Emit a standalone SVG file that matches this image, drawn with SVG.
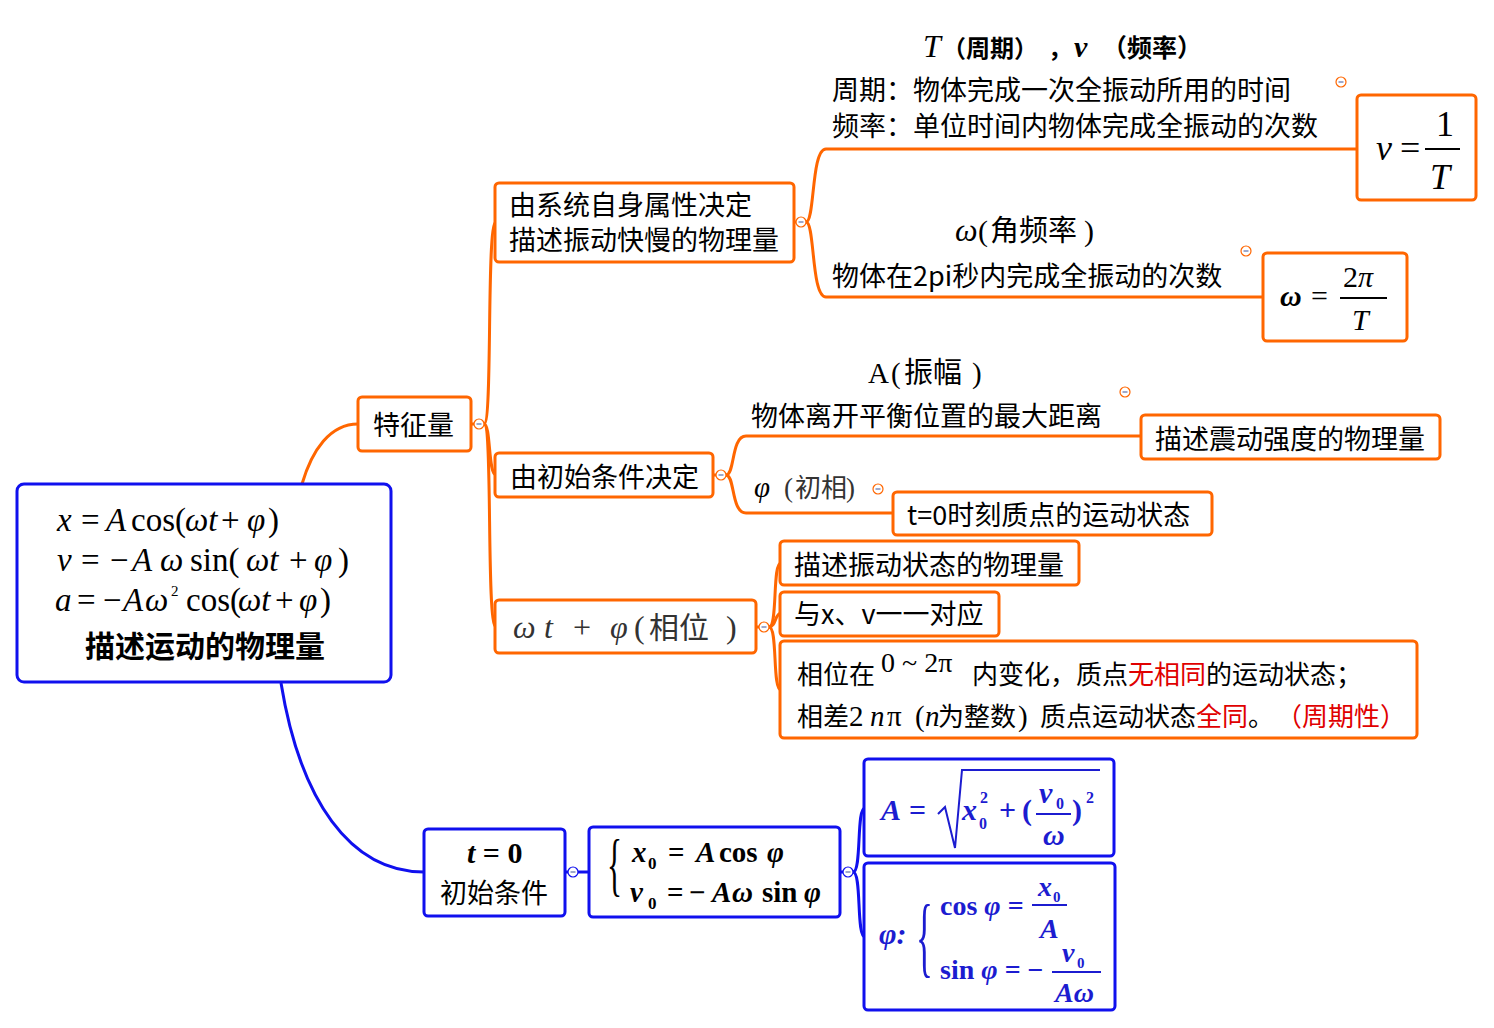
<svg xmlns="http://www.w3.org/2000/svg" width="1494" height="1028" viewBox="0 0 1494 1028" font-size="27">
<style>
.bo{fill:#fff;stroke:#ff6600;stroke-width:3}
.bb{fill:#fff;stroke:#1010ee;stroke-width:3}
.lo{fill:none;stroke:#ff6600;stroke-width:3}
.lb{fill:none;stroke:#1010ee;stroke-width:3}
.zh{font-family:"Noto Sans CJK SC","Noto Sans",sans-serif;fill:#000}
.m{font-family:"Liberation Serif","DejaVu Serif",serif}
.i{font-style:italic}
.b{font-weight:bold}
.blue{fill:#1c1cd0}
.red{fill:#e00000}
.gray{fill:#333}
.bar{stroke:#000;stroke-width:2}
.barb{stroke:#1c1cd0;stroke-width:2}
</style>
<defs>
<g id="co"><circle r="5" fill="#fff" stroke="#ff6600" stroke-width="1.2"/><line x1="-2.5" x2="2.5" stroke="#6a7ab0" stroke-width="1.3"/></g>
<g id="cb"><circle r="5" fill="#fff" stroke="#1010ee" stroke-width="1.2"/><line x1="-2.5" x2="2.5" stroke="#6a7ab0" stroke-width="1.3"/></g>
</defs>

<g id="connectors">
<path class="lo" d="M302,484 C312,450 330,424 358,424"/>
<path class="lo" d="M471,424 L484,424"/>
<path class="lo" d="M484,424 C493,424 486,222 496,222"/>
<path class="lo" d="M484,424 C491,424 488,475 496,475"/>
<path class="lo" d="M484,424 C493,424 486,627 496,627"/>
<path class="lo" d="M794,222 L806,222 C815,222 811,149 826,149 L1357,149"/>
<path class="lo" d="M806,222 C815,222 811,297 826,297 L1263,297"/>
<path class="lo" d="M713,475 L726,475 C735,475 731,436 746,436 L1141,436"/>
<path class="lo" d="M726,475 C735,475 731,513 746,513 L893,513"/>
<path class="lo" d="M756,627 L769,627 C778,627 772,563 781,563"/>
<path class="lo" d="M769,627 C776,627 775,613 781,613"/>
<path class="lo" d="M769,627 C778,627 772,690 781,690"/>
<path class="lb" d="M281,683 C300,800 350,872 424,872"/>
<path class="lb" d="M565,872 L589,872"/>
<path class="lb" d="M840,872 L853,872 C862,872 856,808 865,808"/>
<path class="lb" d="M853,872 C862,872 856,937 865,937"/>
<use href="#co" x="479" y="424"/>
<use href="#co" x="801" y="222"/>
<use href="#co" x="721" y="475"/>
<use href="#co" x="764" y="627"/>
<use href="#co" x="1341" y="82"/>
<use href="#co" x="1246" y="251"/>
<use href="#co" x="1125" y="392"/>
<use href="#co" x="878" y="489"/>
<use href="#cb" x="573" y="872"/>
<use href="#cb" x="848" y="872"/>
</g>

<g id="root">
<rect class="bb" x="17" y="484" width="374" height="198" rx="7"/>
<text class="m" font-size="33" y="531"><tspan class="i" x="57">x</tspan><tspan x="81">=</tspan><tspan class="i" x="106">A</tspan><tspan x="131">cos(</tspan><tspan class="i" x="185">ωt</tspan><tspan x="221">+</tspan><tspan class="i" x="247">φ</tspan><tspan x="268">)</tspan></text>
<text class="m" font-size="33" y="571"><tspan class="i" x="57">v</tspan><tspan x="81">=</tspan><tspan x="110">−</tspan><tspan class="i" x="132">A</tspan><tspan class="i" x="160">ω</tspan><tspan x="190">sin(</tspan><tspan class="i" x="246">ωt</tspan><tspan x="289">+</tspan><tspan class="i" x="314">φ</tspan><tspan x="338">)</tspan></text>
<text class="m" font-size="33" y="611"><tspan class="i" x="55">a</tspan><tspan x="77">=</tspan><tspan x="103">−</tspan><tspan class="i" x="123">A</tspan><tspan class="i" x="145">ω</tspan><tspan font-size="15" x="171" y="596">2</tspan><tspan x="186" y="611">cos(</tspan><tspan class="i" x="238">ωt</tspan><tspan x="275">+</tspan><tspan class="i" x="299">φ</tspan><tspan x="320">)</tspan></text>
<text class="zh b" font-size="30" x="85" y="657">描述运动的物理量</text>
</g>

<g id="tezheng">
<rect class="bo" x="358" y="397" width="113" height="54" rx="4"/>
<text class="zh" x="373" y="435">特征量</text>
</g>

<g id="xitong">
<rect class="bo" x="495" y="183" width="299" height="79" rx="4"/>
<text class="zh" x="509" y="215">由系统自身属性决定</text>
<text class="zh" x="509" y="250">描述振动快慢的物理量</text>
</g>

<g id="zhouqi">
<text y="57"><tspan class="m i" font-size="32" x="923">T</tspan><tspan class="zh b" font-size="24" x="942">（周期）</tspan><tspan class="zh b" font-size="24" x="1048">，</tspan><tspan class="m i b" font-size="30" x="1074">ν</tspan><tspan class="zh b" font-size="25" x="1102">（频率）</tspan></text>
<text class="zh" x="832" y="100">周期：物体完成一次全振动所用的时间</text>
<text class="zh" x="832" y="136">频率：单位时间内物体完成全振动的次数</text>
</g>

<g id="nu">
<rect class="bo" x="1357" y="95" width="119" height="105" rx="4"/>
<text class="m i" font-size="36" x="1376" y="160">ν</text>
<text class="m" font-size="36" x="1400" y="160">=</text>
<text class="m" font-size="36" x="1436" y="136">1</text>
<line class="bar" x1="1425" y1="149" x2="1460" y2="149"/>
<text class="m i" font-size="36" x="1430" y="189">T</text>
</g>

<g id="omega-text">
<text y="241"><tspan class="m i" font-size="32" x="955">ω</tspan><tspan class="m" font-size="30" x="978">(</tspan><tspan class="zh" font-size="29" x="990">角频率</tspan><tspan class="m" font-size="30" x="1084">)</tspan></text>
<text class="zh" x="832" y="286">物体在2pi秒内完成全振动的次数</text>
</g>

<g id="omega">
<rect class="bo" x="1263" y="253" width="144" height="88" rx="4"/>
<text class="m i b" font-size="30" x="1280" y="306">ω</text>
<text class="m" font-size="30" x="1311" y="306">=</text>
<text class="m" font-size="30" x="1343" y="287">2<tspan class="i">π</tspan></text>
<line class="bar" x1="1340" y1="298" x2="1387" y2="298"/>
<text class="m i" font-size="30" x="1352" y="330">T</text>
</g>

<g id="chushi">
<rect class="bo" x="495" y="453" width="218" height="44" rx="4"/>
<text class="zh" x="510" y="487">由初始条件决定</text>
</g>

<g id="zhenfu-text">
<text y="383"><tspan class="m" font-size="29" x="868">A</tspan><tspan class="m" font-size="29" x="891">(</tspan><tspan class="zh" font-size="29" x="904">振幅</tspan><tspan class="m" font-size="29" x="972">)</tspan></text>
<text class="zh" x="751" y="426">物体离开平衡位置的最大距离</text>
</g>

<g id="qiangdu">
<rect class="bo" x="1141" y="415" width="299" height="44" rx="4"/>
<text class="zh" x="1155" y="449">描述震动强度的物理量</text>
</g>

<g id="chuxiang-text">
<text y="497"><tspan class="m i" font-size="29" x="754">φ</tspan><tspan class="m gray" font-size="27" x="784">(</tspan><tspan class="zh gray" font-size="26" x="795">初相</tspan><tspan class="m gray" font-size="27" x="846">)</tspan></text>
</g>

<g id="t0state">
<rect class="bo" x="893" y="492" width="319" height="43" rx="4"/>
<text class="zh" x="907" y="525">t=0时刻质点的运动状态</text>
</g>

<g id="xiangwei">
<rect class="bo" x="495" y="600" width="261" height="53" rx="4"/>
<text class="gray" y="638" font-size="32"><tspan class="m i" x="513">ω</tspan><tspan class="m i" x="544">t</tspan><tspan class="m" x="573">+</tspan><tspan class="m i" x="610">φ</tspan><tspan class="m" x="634">(</tspan><tspan class="zh gray" font-size="30" x="649">相位</tspan><tspan class="m" x="726">)</tspan></text>
</g>

<g id="zhuangtai">
<rect class="bo" x="780" y="541" width="299" height="44" rx="4"/>
<text class="zh" x="794" y="575">描述振动状态的物理量</text>
</g>

<g id="duiying">
<rect class="bo" x="780" y="592" width="219" height="44" rx="4"/>
<text class="zh" x="794" y="624">与x、v一一对应</text>
</g>

<g id="zhouqixing">
<rect class="bo" x="780" y="641" width="637" height="97" rx="4"/>
<text y="684" font-size="26"><tspan class="zh" x="797">相位在</tspan><tspan class="m" font-size="28" x="881" y="672">0 ~ 2π</tspan><tspan class="zh" x="972" y="684">内变化，质点</tspan><tspan class="zh red">无相同</tspan><tspan class="zh">的运动状态；</tspan></text>
<text y="726" font-size="26"><tspan class="zh" x="797">相差</tspan><tspan class="m" font-size="29" x="849">2</tspan><tspan class="m i" font-size="29" x="870">n</tspan><tspan class="m" font-size="29" x="887">π</tspan><tspan class="m" font-size="29" x="915">(</tspan><tspan class="m i" font-size="29" x="925">n</tspan><tspan class="zh" x="938">为整数</tspan><tspan class="m" font-size="29" x="1018">)</tspan><tspan class="zh" x="1040">质点运动状态</tspan><tspan class="zh red">全同</tspan><tspan class="zh">。</tspan><tspan class="zh red" x="1276">（周期性）</tspan></text>
</g>

<g id="t0">
<rect class="bb" x="424" y="829" width="141" height="87" rx="4"/>
<text class="m b" font-size="30" x="467" y="863"><tspan class="i">t</tspan> = 0</text>
<text class="zh" x="440" y="903">初始条件</text>
</g>

<g id="fangcheng">
<rect class="bb" x="589" y="827" width="251" height="90" rx="4"/>
<text class="m" font-size="70" transform="translate(607,888) scale(0.45,1)">{</text>
<text class="m b" font-size="29" y="862"><tspan class="i" x="632">x</tspan><tspan font-size="17" x="648" y="869">0</tspan><tspan x="668" y="862">=</tspan><tspan class="i" x="696">A</tspan><tspan x="719">cos</tspan><tspan class="i" x="767">φ</tspan></text>
<text class="m b" font-size="29" y="902"><tspan class="i" x="630">v</tspan><tspan font-size="17" x="648" y="909">0</tspan><tspan x="667" y="902">=</tspan><tspan x="689">−</tspan><tspan class="i" x="712">A</tspan><tspan class="i" x="732">ω</tspan><tspan x="762">sin</tspan><tspan class="i" x="804">φ</tspan></text>
</g>

<g id="amp">
<rect class="bb" x="864" y="759" width="250" height="97" rx="4"/>
<text class="m b i blue" font-size="30" x="881" y="820">A</text>
<text class="m b blue" font-size="30" x="909" y="820">=</text>
<polyline points="938,814 945,807 955,848 962,770 1100,770" fill="none" stroke="#1c1cd0" stroke-width="2"/>
<text class="m b blue" font-size="30" x="962" y="820"><tspan class="i">x</tspan></text>
<text class="m b blue" font-size="16" x="979" y="829">0</text>
<text class="m b blue" font-size="16" x="980" y="803">2</text>
<text class="m b blue" font-size="30" x="999" y="820">+</text>
<text class="m b blue" font-size="30" x="1022" y="820">(</text>
<text class="m b i blue" font-size="30" x="1039" y="803">v</text>
<text class="m b blue" font-size="16" x="1056" y="809">0</text>
<line class="barb" x1="1036" y1="814" x2="1071" y2="814"/>
<text class="m b i blue" font-size="30" x="1043" y="845">ω</text>
<text class="m b blue" font-size="30" x="1072" y="820">)</text>
<text class="m b blue" font-size="16" x="1086" y="803">2</text>
</g>

<g id="phi">
<rect class="bb" x="864" y="863" width="251" height="147" rx="4"/>
<text class="m b i blue" font-size="30" x="879" y="944">φ:</text>
<text class="m blue" font-size="88" transform="translate(916,966) scale(0.4,1)">{</text>
<text class="m b blue" font-size="28" x="940" y="915">cos<tspan class="i"> φ</tspan> =</text>
<text class="m b i blue" font-size="28" x="1038" y="896">x</text>
<text class="m b blue" font-size="15" x="1053" y="902">0</text>
<line class="barb" x1="1032" y1="905" x2="1067" y2="905"/>
<text class="m b i blue" font-size="28" x="1040" y="938">A</text>
<text class="m b blue" font-size="28" x="940" y="979">sin<tspan class="i"> φ</tspan> = −</text>
<text class="m b i blue" font-size="28" x="1062" y="962">v</text>
<text class="m b blue" font-size="15" x="1077" y="968">0</text>
<line class="barb" x1="1052" y1="972" x2="1101" y2="972"/>
<text class="m b i blue" font-size="28" x="1055" y="1002">Aω</text>
</g>
</svg>
